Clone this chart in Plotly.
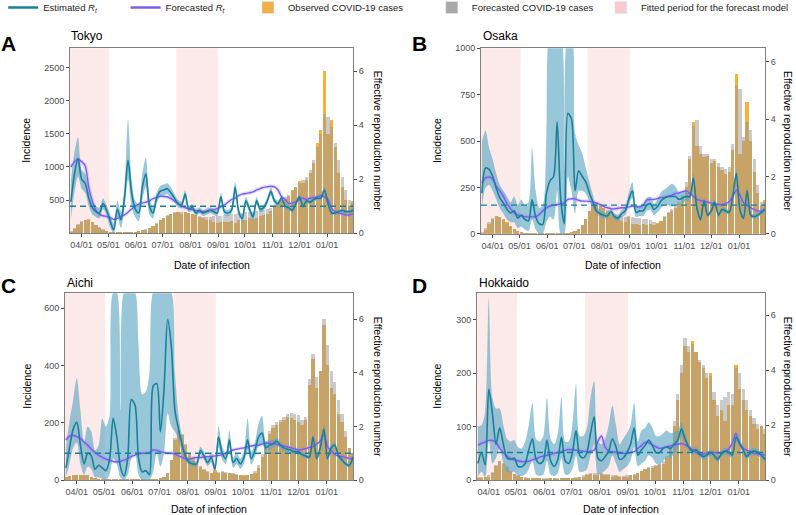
import plotly.graph_objects as go

W, H = 796, 515
FONT = "Liberation Sans, Arial, sans-serif"

dates = ["2020-03-20", "2020-03-24", "2020-03-28", "2020-04-01", "2020-04-05", "2020-04-09", "2020-04-13", "2020-04-17", "2020-04-21", "2020-04-25",
         "2020-04-29", "2020-05-03", "2020-05-07", "2020-05-11", "2020-05-15", "2020-05-19", "2020-05-23", "2020-05-27", "2020-05-31", "2020-06-04",
         "2020-06-08", "2020-06-12", "2020-06-16", "2020-06-20", "2020-06-24", "2020-06-28", "2020-07-02", "2020-07-06", "2020-07-10", "2020-07-14",
         "2020-07-18", "2020-07-22", "2020-07-26", "2020-07-30", "2020-08-03", "2020-08-07", "2020-08-11", "2020-08-15", "2020-08-19", "2020-08-23",
         "2020-08-27", "2020-08-31", "2020-09-04", "2020-09-08", "2020-09-12", "2020-09-16", "2020-09-20", "2020-09-24", "2020-09-28", "2020-10-02",
         "2020-10-06", "2020-10-10", "2020-10-14", "2020-10-18", "2020-10-22", "2020-10-26", "2020-10-30", "2020-11-03", "2020-11-07", "2020-11-11",
         "2020-11-15", "2020-11-19", "2020-11-23", "2020-11-27", "2020-12-01", "2020-12-05", "2020-12-09", "2020-12-13", "2020-12-17", "2020-12-21",
         "2020-12-25", "2020-12-29", "2021-01-02", "2021-01-06", "2021-01-10", "2021-01-14", "2021-01-18", "2021-01-22", "2021-01-26", "2021-01-30"]

month_ticks = ["2020-04-01", "2020-05-01", "2020-06-01", "2020-07-01", "2020-08-01", "2020-09-01",
               "2020-10-01", "2020-11-01", "2020-12-01", "2021-01-01"]
fitted_periods = [("2020-03-19", "2020-05-02"), ("2020-07-16", "2020-09-01")]
x_range = ["2020-03-19", "2021-01-30"]

# ---------------- Tokyo ----------------
tokyo_obs = [20, 60, 120, 170, 200, 210, 170, 120, 80, 50,
             30, 15, 10, 8, 10, 8, 10, 15, 20, 30,
             40, 50, 70, 100, 140, 190, 230, 260, 280, 300,
             310, 290, 320, 300, 280, 270, 240, 220, 200, 190,
             160, 150, 170, 160, 170, 180, 150, 200, 190, 200,
             220, 210, 230, 250, 270, 290, 330, 400, 450, 500,
             520, 560, 650, 700, 780, 760, 800, 900, 1050, 1350,
             1550, 2450, 1500, 1700, 1300, 900, 700, 500, 400, 480]
tokyo_fc = [25, 70, 130, 175, 200, 200, 165, 120, 85, 55,
            35, 20, 12, 10, 10, 10, 12, 15, 22, 30,
            40, 55, 75, 105, 145, 190, 230, 265, 290, 310,
            320, 320, 315, 305, 290, 275, 260, 245, 240, 245,
            250, 250, 260, 270, 270, 280, 290, 300, 300, 310,
            320, 320, 330, 340, 350, 360, 380, 420, 460, 500,
            540, 580, 640, 700, 760, 800, 850, 950, 1100, 1300,
            1500, 1800, 1750, 1600, 1350, 1100, 850, 650, 500, 450]
tokyo_rt = [1.16, 2.2, 2.76, 2.0, 1.85, 1.3, 0.95, 0.8, 0.75, 1.1,
            0.85, 0.45, 0.12, 0.9, 0.5, 1.3, 2.7, 1.5, 0.9, 0.75,
            1.7, 2.2, 1.0, 0.75, 1.3, 1.55, 1.6, 1.65, 1.5, 1.3,
            1.1, 1.05, 1.45, 0.9, 0.95, 0.75, 0.85, 0.75, 0.8, 0.85,
            0.8, 0.75, 1.35, 0.8, 0.75, 0.85, 1.7, 0.8, 0.55, 1.2,
            0.9, 0.6, 1.2, 0.9, 0.95, 1.2, 1.55, 1.2, 1.1, 1.3,
            1.0, 0.95, 0.85, 1.1, 1.35, 1.0, 1.2, 1.15, 1.25, 1.3,
            1.3, 1.6, 1.1, 0.75, 0.75, 0.8, 0.85, 0.8, 0.8, 0.85]
tokyo_lo = [0.55, 1.5, 2.1, 1.65, 1.5, 1.0, 0.7, 0.6, 0.55, 0.9,
            0.65, 0.2, 0.0, 0.6, 0.2, 0.9, 2.0, 1.0, 0.6, 0.45,
            1.25, 1.7, 0.7, 0.55, 1.1, 1.35, 1.4, 1.45, 1.3, 1.15,
            0.97, 0.93, 1.3, 0.78, 0.83, 0.64, 0.74, 0.64, 0.69, 0.74,
            0.69, 0.64, 1.2, 0.67, 0.63, 0.73, 1.5, 0.66, 0.42, 1.05,
            0.77, 0.48, 1.06, 0.78, 0.84, 1.08, 1.4, 1.08, 0.99, 1.19,
            0.9, 0.86, 0.76, 1.01, 1.25, 0.91, 1.11, 1.07, 1.17, 1.22,
            1.22, 1.48, 1.0, 0.68, 0.68, 0.73, 0.78, 0.73, 0.73, 0.77]
tokyo_hi = [1.95, 3.0, 3.55, 2.35, 2.2, 1.6, 1.2, 1.0, 0.95, 1.3,
            1.05, 0.7, 0.35, 1.2, 0.8, 1.7, 4.2, 2.0, 1.2, 1.05,
            2.2, 2.8, 1.3, 0.95, 1.5, 1.75, 1.8, 1.85, 1.7, 1.45,
            1.23, 1.17, 1.6, 1.02, 1.07, 0.86, 0.96, 0.86, 0.91, 0.96,
            0.91, 0.86, 1.5, 0.93, 0.87, 0.97, 1.9, 0.94, 0.68, 1.35,
            1.03, 0.72, 1.34, 1.02, 1.06, 1.32, 1.7, 1.32, 1.21, 1.41,
            1.1, 1.04, 0.94, 1.19, 1.45, 1.09, 1.29, 1.23, 1.33, 1.38,
            1.38, 1.72, 1.2, 0.82, 0.82, 0.87, 0.92, 0.87, 0.87, 0.93]
tokyo_frt = [2.45, 2.65, 2.75, 2.65, 2.5, 1.7, 1.2, 0.85, 0.7, 0.65,
             0.62, 0.58, 0.52, 0.55, 0.62, 0.68, 0.78, 0.9, 1.0, 1.08,
             1.12, 1.15, 1.2, 1.28, 1.33, 1.37, 1.36, 1.35, 1.28, 1.2,
             1.1, 1.0, 0.95, 0.9, 0.88, 0.85, 0.8, 0.8, 0.82, 0.85,
             0.87, 0.92, 0.98, 1.05, 1.15, 1.25, 1.3, 1.4, 1.45, 1.47,
             1.5, 1.53, 1.6, 1.65, 1.7, 1.72, 1.74, 1.72, 1.6, 1.35,
             1.25, 1.1, 1.12, 1.16, 1.25, 1.3, 1.25, 1.3, 1.32, 1.35,
             1.4, 1.35, 1.25, 0.92, 0.8, 0.75, 0.72, 0.68, 0.68, 0.72]

# ---------------- Osaka ----------------
osaka_obs = [5, 20, 50, 80, 95, 90, 80, 60, 40, 25,
             12, 8, 5, 3, 3, 2, 2, 2, 2, 2,
             2, 2, 3, 3, 5, 8, 15, 25, 45, 80,
             120, 160, 170, 150, 140, 120, 100, 90, 80, 70,
             60, 90, 50, 50, 45, 50, 45, 50, 45, 55,
             70, 90, 110, 120, 140, 160, 200, 250, 400, 600,
             470, 430, 410, 420, 380, 390, 360, 340, 320, 330,
             450, 860, 430, 500, 710, 500, 330, 220, 150, 180]
osaka_fc = [10, 30, 60, 85, 95, 90, 75, 55, 35, 22,
            12, 8, 5, 3, 3, 3, 2, 2, 2, 2,
            2, 3, 3, 4, 5, 6, 12, 25, 45, 80,
            120, 155, 165, 155, 140, 125, 110, 100, 95, 95,
            90, 95, 90, 85, 85, 80, 80, 75, 60, 50,
            70, 95, 115, 130, 150, 170, 210, 280, 420, 580,
            610, 470, 430, 430, 400, 400, 380, 360, 350, 360,
            480, 800, 780, 520, 600, 560, 400, 260, 170, 170]
osaka_rt = [1.42, 2.29, 2.25, 2.0, 1.6, 1.25, 1.07, 0.85, 0.73, 0.8,
            0.55, 0.65, 0.5, 0.45, 1.19, 0.6, 0.35, 0.33, 1.4, 1.85,
            2.0, 3.9, 1.2, 0.35, 4.2, 4.0, 1.5, 2.2, 2.0, 1.8,
            1.42, 1.1, 0.8, 0.7, 0.65, 0.62, 0.78, 0.6, 0.55, 0.7,
            0.8, 1.2, 1.5, 0.75, 0.8, 0.8, 1.0, 1.05, 0.85, 0.95,
            1.15, 1.25, 1.3, 1.3, 1.3, 1.2, 1.25, 1.3, 1.3, 1.94,
            0.9, 0.5, 1.15, 0.65, 0.8, 1.1, 0.65, 0.85, 0.8, 0.75,
            1.3, 2.1, 0.84, 0.55, 1.5, 0.65, 0.6, 0.65, 0.75, 0.85]
osaka_lo = [0.9, 1.6, 1.7, 1.5, 1.2, 0.9, 0.7, 0.5, 0.4, 0.4,
            0.2, 0.25, 0.15, 0.1, 0.5, 0.15, 0.0, 0.0, 0.4, 0.6,
            0.5, 1.5, 0.0, 0.0, 2.0, 1.5, 0.7, 1.5, 1.5, 1.4,
            1.15, 0.92, 0.68, 0.6, 0.55, 0.52, 0.67, 0.5, 0.45, 0.58,
            0.66, 1.0, 1.25, 0.58, 0.62, 0.62, 0.8, 0.85, 0.66, 0.75,
            0.9, 1.0, 1.0, 0.95, 1.0, 1.0, 1.08, 1.15, 1.18, 1.8,
            0.8, 0.42, 1.05, 0.57, 0.72, 1.0, 0.57, 0.77, 0.72, 0.67,
            1.2, 1.95, 0.75, 0.47, 1.38, 0.57, 0.52, 0.57, 0.66, 0.75]
osaka_hi = [3.2, 3.6, 3.0, 2.6, 2.1, 1.7, 1.5, 1.3, 1.1, 1.3,
            1.0, 1.2, 1.0, 1.1, 3.0, 1.5, 0.9, 1.0, 3.5, 7.0,
            7.0, 7.0, 7.0, 2.2, 7.0, 7.0, 3.5, 3.1, 2.8, 2.3,
            1.8, 1.35, 0.95, 0.82, 0.76, 0.72, 0.9, 0.72, 0.67, 0.82,
            0.95, 1.45, 1.8, 0.95, 1.0, 1.0, 1.25, 1.3, 1.05, 1.2,
            1.45, 1.55, 1.65, 1.75, 1.65, 1.45, 1.45, 1.45, 1.42, 2.1,
            1.0, 0.6, 1.25, 0.74, 0.88, 1.2, 0.73, 0.93, 0.88, 0.83,
            1.4, 2.25, 0.93, 0.63, 1.62, 0.73, 0.68, 0.73, 0.84, 0.95]
osaka_frt = [1.78, 1.95, 1.98, 1.9, 1.66, 1.5, 1.3, 1.05, 0.88, 0.73,
             0.66, 0.62, 0.6, 0.59, 0.59, 0.6, 0.67, 0.8, 0.9, 0.97,
             1.0, 1.02, 1.05, 1.08, 1.2, 1.22, 1.22, 1.17, 1.14, 1.14,
             1.13, 1.1, 1.07, 1.02, 0.95, 0.91, 0.88, 0.87, 0.89, 0.91,
             0.91, 0.94, 0.97, 0.95, 0.93, 1.0, 1.18, 1.2, 1.2, 1.23,
             1.26, 1.28, 1.31, 1.35, 1.4, 1.43, 1.47, 1.49, 1.42, 1.3,
             1.2, 1.16, 1.14, 1.1, 1.08, 1.05, 1.02, 1.02, 1.05, 1.12,
             1.3, 1.52, 1.35, 1.08, 1.0, 0.91, 0.84, 0.8, 0.79, 0.85]

# ---------------- Aichi ----------------
aichi_obs = [8, 12, 15, 15, 18, 18, 15, 10, 6, 4,
             2, 1, 1, 1, 1, 1, 1, 1, 1, 1,
             1, 2, 2, 2, 3, 3, 5, 10, 25, 70,
             140, 170, 155, 120, 90, 70, 55, 45, 35, 28,
             22, 35, 25, 28, 25, 22, 20, 18, 15, 15,
             18, 20, 25, 40, 80, 120, 160, 180, 190, 200,
             210, 220, 215, 210, 200, 190, 210, 330, 420, 320,
             380, 540, 400, 320, 300, 230, 200, 150, 110, 95]
aichi_fc = [8, 12, 15, 16, 18, 18, 15, 11, 7, 4,
            2, 1, 1, 1, 1, 1, 1, 1, 1, 1,
            1, 2, 2, 2, 3, 4, 6, 10, 25, 70,
            145, 175, 160, 125, 95, 75, 60, 48, 38, 30,
            25, 28, 28, 30, 28, 25, 22, 20, 16, 12,
            15, 20, 30, 50, 90, 130, 170, 190, 200, 210,
            220, 230, 232, 230, 225, 210, 220, 350, 440, 360,
            380, 560, 470, 380, 340, 280, 230, 170, 110, 95]
aichi_rt = [0.45, 1.2, 1.9, 2.15, 1.3, 0.6, 1.0, 0.9, 0.4, 0.55,
            0.45, 0.35, 0.75, 2.3, 1.6, 0.5, 0.15, 0.8, 3.0, 2.8,
            0.8, 0.3, 0.35, 0.2, 3.5, 3.6, 1.8, 3.4, 6.0, 5.0,
            2.6, 1.9, 1.3, 0.85, 0.65, 0.6, 0.6, 1.1, 0.9, 0.65,
            0.85, 0.4, 1.6, 1.0, 0.8, 1.5, 0.65, 0.8, 0.6, 0.85,
            1.5, 0.8, 1.1, 1.6, 1.75, 1.2, 1.3, 1.35, 1.45, 1.3,
            1.2, 1.15, 1.1, 1.05, 1.05, 0.95, 0.9, 0.85, 1.6, 0.8,
            1.2, 1.9, 0.8, 1.2, 1.3, 0.9, 0.75, 0.6, 0.55, 0.85]
aichi_lo = [0.1, 0.6, 1.2, 1.4, 0.6, 0.2, 0.5, 0.4, 0.1, 0.1,
            0.05, 0.0, 0.2, 0.8, 0.6, 0.1, 0.0, 0.2, 0.8, 1.0,
            0.2, 0.0, 0.0, 0.0, 0.3, 1.0, 0.5, 1.0, 2.5, 2.0,
            1.8, 1.5, 1.0, 0.7, 0.55, 0.5, 0.5, 0.95, 0.75, 0.52,
            0.65, 0.28, 1.2, 0.75, 0.6, 1.2, 0.45, 0.6, 0.42, 0.62,
            1.1, 0.58, 0.85, 1.25, 1.35, 1.0, 1.12, 1.2, 1.3, 1.18,
            1.08, 1.04, 0.99, 0.95, 0.95, 0.86, 0.81, 0.77, 1.48, 0.72,
            1.1, 1.76, 0.71, 1.09, 1.18, 0.8, 0.65, 0.51, 0.46, 0.74]
aichi_hi = [1.2, 2.2, 3.0, 3.8, 2.6, 1.4, 2.0, 1.8, 1.1, 1.3,
            2.3, 2.0, 2.4, 7.0, 7.0, 2.6, 7.0, 7.0, 7.0, 7.0,
            5.0, 3.2, 3.3, 4.0, 7.0, 7.0, 7.0, 7.0, 7.0, 7.0,
            4.0, 2.4, 1.6, 1.0, 0.76, 0.7, 0.72, 1.25, 1.05, 0.8,
            1.05, 0.55, 2.0, 1.25, 1.0, 1.85, 0.85, 1.0, 0.8, 1.1,
            2.3, 1.05, 1.4, 2.1, 2.4, 1.45, 1.5, 1.5, 1.6, 1.42,
            1.32, 1.26, 1.21, 1.15, 1.15, 1.04, 0.99, 0.93, 1.72, 0.88,
            1.3, 2.04, 0.89, 1.31, 1.42, 1.0, 0.85, 0.69, 0.64, 0.96]
aichi_frt = [1.49, 1.65, 1.66, 1.62, 1.55, 1.42, 1.3, 1.15, 1.03, 0.92,
             0.85, 0.78, 0.74, 0.69, 0.68, 0.7, 0.74, 0.8, 0.87, 0.93,
             0.98, 1.0, 1.0, 1.03, 1.12, 1.1, 1.06, 1.02, 1.0, 1.0,
             0.97, 0.9, 0.85, 0.78, 0.78, 0.82, 0.84, 0.84, 0.86, 0.87,
             0.88, 0.9, 0.92, 0.95, 1.0, 1.05, 1.12, 1.15, 1.18, 1.2,
             1.24, 1.27, 1.3, 1.3, 1.34, 1.37, 1.37, 1.36, 1.33, 1.3,
             1.27, 1.24, 1.2, 1.16, 1.12, 1.14, 1.17, 1.22, 1.25, 1.35,
             1.45, 1.7, 1.25, 1.1, 0.95, 0.9, 0.87, 0.84, 0.8, 0.82]

# ---------------- Hokkaido ----------------
hokkaido_obs = [4, 4, 5, 6, 12, 25, 35, 30, 22, 15,
                10, 7, 5, 4, 4, 3, 3, 3, 2, 2,
                3, 3, 2, 3, 3, 4, 3, 4, 5, 6,
                8, 10, 9, 8, 10, 9, 8, 6, 7, 5,
                5, 6, 8, 9, 12, 16, 20, 22, 22, 25,
                27, 30, 40, 60, 100, 150, 200, 250, 240, 260,
                240, 220, 210, 190, 200, 150, 120, 130, 110, 140,
                140, 215, 170, 150, 130, 120, 105, 95, 100, 85]
hokkaido_fc = [5, 5, 6, 8, 14, 27, 35, 32, 25, 17,
               11, 8, 6, 5, 4, 4, 3, 3, 3, 3,
               3, 3, 3, 3, 3, 4, 4, 5, 6, 8,
               10, 12, 13, 12, 12, 11, 10, 9, 8, 7,
               7, 8, 9, 10, 13, 17, 20, 23, 25, 27,
               30, 35, 45, 65, 110, 160, 215, 265, 250, 255,
               240, 225, 215, 200, 195, 165, 140, 150, 155, 165,
               160, 210, 200, 170, 150, 130, 115, 105, 100, 95]
hokkaido_rt = [0.6, 1.0, 0.55, 3.3, 2.4, 1.3, 1.9, 1.3, 0.8, 0.75,
               0.8, 0.5, 0.48, 0.6, 1.1, 1.5, 0.75, 0.6, 0.7, 1.45,
               0.7, 0.5, 0.75, 1.55, 0.7, 0.6, 1.0, 1.8, 0.9, 0.8,
               1.0, 1.7, 2.3, 0.8, 0.7, 0.85, 1.05, 1.5, 1.2, 0.75,
               0.8, 1.0, 1.3, 1.9, 0.9, 1.1, 1.25, 1.45, 1.25, 1.0,
               1.0, 1.15, 1.2, 1.15, 1.3, 1.45, 1.85, 1.5, 1.2, 1.05,
               1.1, 0.95, 0.85, 0.9, 1.0, 0.9, 0.75, 0.95, 1.05, 1.0,
               0.9, 1.55, 1.35, 1.1, 0.85, 1.0, 1.05, 1.0, 0.9, 0.75]
hokkaido_lo = [0.12, 0.3, 0.1, 1.5, 0.6, 0.8, 1.2, 0.6, 0.3, 0.28,
               0.3, 0.15, 0.15, 0.2, 0.4, 0.7, 0.2, 0.15, 0.2, 0.7,
               0.2, 0.15, 0.25, 0.8, 0.2, 0.2, 0.4, 0.9, 0.3, 0.3,
               0.4, 0.9, 1.3, 0.2, 0.25, 0.35, 0.5, 0.9, 0.6, 0.3,
               0.4, 0.5, 0.7, 1.2, 0.5, 0.6, 0.7, 0.9, 0.8, 0.6,
               0.55, 0.7, 0.8, 0.8, 0.95, 1.15, 1.6, 1.3, 1.07, 0.93,
               0.98, 0.84, 0.74, 0.79, 0.89, 0.79, 0.64, 0.84, 0.93, 0.88,
               0.79, 1.4, 1.22, 0.98, 0.74, 0.88, 0.93, 0.88, 0.79, 0.64]
hokkaido_hi = [1.95, 2.0, 2.5, 6.6, 3.0, 2.6, 2.6, 2.0, 1.5, 1.4,
               1.45, 1.2, 1.15, 1.4, 2.0, 2.8, 1.5, 1.4, 1.6, 3.0,
               1.5, 1.3, 1.7, 3.0, 1.4, 1.4, 2.0, 3.5, 1.6, 1.6,
               1.9, 3.0, 3.6, 1.4, 1.3, 1.5, 2.0, 2.7, 2.0, 1.3,
               1.5, 1.7, 2.0, 2.8, 1.4, 1.8, 1.9, 2.1, 1.9, 1.6,
               1.6, 1.7, 1.8, 1.7, 1.75, 1.8, 2.1, 1.7, 1.33, 1.17,
               1.22, 1.06, 0.96, 1.01, 1.11, 1.01, 0.86, 1.06, 1.17, 1.12,
               1.01, 1.7, 1.48, 1.22, 0.96, 1.12, 1.17, 1.12, 1.01, 0.86]
hokkaido_frt = [1.27, 1.33, 1.39, 1.44, 1.44, 1.36, 1.15, 1.0, 0.87, 0.78,
                0.73, 0.7, 0.67, 0.67, 0.68, 0.73, 0.77, 0.83, 0.87, 0.9,
                0.93, 0.97, 1.0, 1.03, 1.08, 1.11, 1.1, 1.08, 1.07, 1.05,
                1.03, 1.05, 1.09, 1.4, 1.6, 1.2, 1.05, 1.03, 1.0, 0.97,
                0.97, 0.97, 1.0, 1.03, 1.15, 1.25, 1.37, 1.35, 1.28, 1.2,
                1.15, 1.17, 1.21, 1.24, 1.27, 1.3, 1.33, 1.28, 1.2, 1.1,
                1.0, 0.92, 0.95, 0.97, 0.99, 1.0, 0.98, 0.97, 1.05, 1.12,
                1.35, 1.7, 1.3, 1.15, 1.09, 1.03, 0.97, 0.95, 0.93, 0.91]

legend_names = ["Estimated <i>R<sub>t</sub></i>",
                "Forecasted <i>R<sub>t</sub></i>",
                "Observed COVID-19 cases",
                "Forecasted COVID-19 cases",
                "Fitted period for the forecast model"]

# ---------------- styling ----------------
TEAL = "#17809b"
TEAL_FILL = "rgba(88,165,194,0.62)"
PURPLE = "#7b5cf2"
PURPLE_HALO = "rgba(150,125,250,0.25)"
ORANGE = "rgba(248,170,40,0.92)"
GREY = "rgba(150,150,150,0.5)"
PINK_BG = "#fdeaea"
AXIS_C = "#808080"
TICK_C = "#4d4d4d"
NB = "\u00a0"

panels = [
    dict(letter="A", title="Tokyo", obs=tokyo_obs, fc=tokyo_fc, rt=tokyo_rt, lo=tokyo_lo, hi=tokyo_hi, frt=tokyo_frt,
         px_x=(70, 353), px_y=(48.3, 233.3), inc_range=[0, 2790], inc_ticks=[500, 1000, 1500, 2000, 2500],
         rt_range=[0, 6.84], letter_xy=(8, 44), title_xy=(69, 36), inc_x=26, rt_x=378, date_y=265),
    dict(letter="B", title="Osaka", obs=osaka_obs, fc=osaka_fc, rt=osaka_rt, lo=osaka_lo, hi=osaka_hi, frt=osaka_frt,
         px_x=(481, 765), px_y=(48.3, 233.8), inc_range=[0, 1000], inc_ticks=[0, 250, 500, 750, 1000],
         rt_range=[0, 6.47], letter_xy=(420, 44), title_xy=(481, 36), inc_x=437, rt_x=788, date_y=265),
    dict(letter="C", title="Aichi", obs=aichi_obs, fc=aichi_fc, rt=aichi_rt, lo=aichi_lo, hi=aichi_hi, frt=aichi_frt,
         px_x=(65, 353), px_y=(293.3, 480), inc_range=[0, 652], inc_ticks=[0, 200, 400, 600],
         rt_range=[0, 6.97], letter_xy=(8, 285), title_xy=(65, 283), inc_x=27, rt_x=378, date_y=508.5),
    dict(letter="D", title="Hokkaido", obs=hokkaido_obs, fc=hokkaido_fc, rt=hokkaido_rt, lo=hokkaido_lo, hi=hokkaido_hi, frt=hokkaido_frt,
         px_x=(477, 765), px_y=(293.3, 480), inc_range=[0, 350], inc_ticks=[0, 100, 200, 300],
         rt_range=[0, 6.79], letter_xy=(420, 285), title_xy=(477, 283), inc_x=437, rt_x=788, date_y=508.5),
]


def fx(p):
    return p / W


def fy(p):
    return 1 - p / H


fig = go.Figure()
layout = dict(
    width=W, height=H, margin=dict(l=0, r=0, t=0, b=0, pad=0, autoexpand=False),
    paper_bgcolor="white", plot_bgcolor="white",
    font=dict(family=FONT, size=10, color="#222222"),
    barmode="overlay", bargap=0, showlegend=True,
    legend=dict(orientation="h", x=0.004, y=1.0 + 7 / H, xanchor="left", yanchor="top",
                font=dict(size=9.5, color="#222222"), bgcolor="rgba(0,0,0,0)",
                itemwidth=30, tracegroupgap=0),
)
shapes = []
annotations = []
DAY_MS = 86400000

for k, p in enumerate(panels):
    xid = "x" if k == 0 else f"x{k + 1}"
    yl = f"y{2 * k + 1}" if k > 0 else "y"
    yr = f"y{2 * k + 2}"
    xkey = "xaxis" if k == 0 else f"xaxis{k + 1}"
    ylkey = "yaxis" if k == 0 else f"yaxis{2 * k + 1}"
    yrkey = f"yaxis{2 * k + 2}"
    xd = [fx(p["px_x"][0]), fx(p["px_x"][1])]
    yd = [fy(p["px_y"][1]), fy(p["px_y"][0])]

    layout[xkey] = dict(domain=xd, anchor=yl, type="date", range=x_range, tickvals=month_ticks,
                        tickformat="%m/%d", ticks="outside", ticklen=3, tickcolor=TICK_C,
                        tickfont=dict(size=9, color=TICK_C), showline=True, mirror=True,
                        linecolor=AXIS_C, linewidth=1, showgrid=False, zeroline=False)
    layout[ylkey] = dict(domain=yd, anchor=xid, range=p["inc_range"], tickvals=p["inc_ticks"],
                         ticks="outside", ticklen=3, tickcolor=TICK_C, tickfont=dict(size=9, color=TICK_C),
                         showline=True, mirror=True, linecolor=AXIS_C, linewidth=1,
                         showgrid=False, zeroline=False)
    layout[yrkey] = dict(overlaying=yl, anchor=xid, side="right", range=p["rt_range"], tickvals=[0, 2, 4, 6],
                         ticks="outside", ticklen=3, tickcolor=TICK_C, tickfont=dict(size=9, color=TICK_C),
                         showline=True, linecolor=AXIS_C, linewidth=1, showgrid=False, zeroline=False)

    for (a, b) in fitted_periods:
        shapes.append(dict(type="rect", xref=xid, yref=f"{yl} domain", x0=a, x1=b, y0=0, y1=1,
                           fillcolor=PINK_BG, line=dict(width=0), layer="below"))

    fig.add_trace(go.Bar(x=dates, y=p["obs"], width=3.6 * DAY_MS, marker=dict(color=ORANGE, line=dict(width=0)),
                         xaxis=xid, yaxis=yl, showlegend=False, hoverinfo="skip"))
    fig.add_trace(go.Bar(x=dates, y=p["fc"], width=3.6 * DAY_MS, marker=dict(color=GREY, line=dict(width=0)),
                         xaxis=xid, yaxis=yl, showlegend=False, hoverinfo="skip"))

    fig.add_trace(go.Scatter(x=dates + dates[::-1], y=p["hi"] + p["lo"][::-1], fill="toself",
                             fillcolor=TEAL_FILL, line=dict(width=0, shape="spline", smoothing=0.8),
                             mode="lines", xaxis=xid, yaxis=yr, showlegend=False, hoverinfo="skip"))
    fig.add_trace(go.Scatter(x=dates, y=p["frt"], mode="lines",
                             line=dict(color=PURPLE_HALO, width=4, shape="spline", smoothing=0.8),
                             xaxis=xid, yaxis=yr, showlegend=False, hoverinfo="skip"))
    fig.add_trace(go.Scatter(x=dates, y=p["frt"], mode="lines",
                             line=dict(color=PURPLE, width=1.4, shape="spline", smoothing=0.8),
                             xaxis=xid, yaxis=yr, showlegend=False, hoverinfo="skip"))
    fig.add_trace(go.Scatter(x=dates, y=p["rt"], mode="lines",
                             line=dict(color=TEAL, width=1.6, shape="spline", smoothing=0.8),
                             xaxis=xid, yaxis=yr, showlegend=False, hoverinfo="skip"))

    shapes.append(dict(type="line", xref=f"{xid} domain", yref=yr, x0=0, x1=1, y0=1, y1=1,
                       line=dict(color=TEAL, width=1.4, dash="6px,4px"), layer="above"))

    annotations.append(dict(text=f"<b>{p['letter']}</b>", x=fx(p["letter_xy"][0]), y=fy(p["letter_xy"][1]),
                            xref="paper", yref="paper", xanchor="center", yanchor="middle", showarrow=False,
                            font=dict(size=21, color="black", family=FONT)))
    annotations.append(dict(text=p["title"], x=fx(p["title_xy"][0]), y=fy(p["title_xy"][1]),
                            xref="paper", yref="paper", xanchor="left", yanchor="middle", showarrow=False,
                            font=dict(size=12, color="black", family=FONT)))
    ymid = (p["px_y"][0] + p["px_y"][1]) / 2
    annotations.append(dict(text="Incidence", x=fx(p["inc_x"]), y=fy(ymid), xref="paper", yref="paper",
                            xanchor="center", yanchor="middle", textangle=-90, showarrow=False,
                            font=dict(size=10.5, color="black", family=FONT)))
    annotations.append(dict(text="Effective reproduction number", x=fx(p["rt_x"]), y=fy(ymid),
                            xref="paper", yref="paper", xanchor="center", yanchor="middle", textangle=90,
                            showarrow=False, font=dict(size=10.5, color="black", family=FONT)))
    xmid = (p["px_x"][0] + p["px_x"][1]) / 2
    annotations.append(dict(text="Date of infection", x=fx(xmid), y=fy(p["date_y"]), xref="paper", yref="paper",
                            xanchor="center", yanchor="middle", showarrow=False,
                            font=dict(size=10.5, color="black", family=FONT)))

# legend entries (trailing non-breaking spaces only widen the spacing between entries)
fig.add_trace(go.Scatter(x=[None], y=[None], mode="lines", line=dict(color=TEAL, width=2.5),
                         name=legend_names[0] + NB * 9, xaxis="x", yaxis="y2"))
fig.add_trace(go.Scatter(x=[None], y=[None], mode="lines", line=dict(color=PURPLE, width=2.5),
                         name=legend_names[1] + NB * 7, xaxis="x", yaxis="y2"))
fig.add_trace(go.Bar(x=[None], y=[None], marker=dict(color="#f3ae48"), name=legend_names[2] + NB * 9,
                     xaxis="x", yaxis="y"))
fig.add_trace(go.Bar(x=[None], y=[None], marker=dict(color="#a8a8a8"), name=legend_names[3] + NB * 1,
                     xaxis="x", yaxis="y"))
fig.add_trace(go.Bar(x=[None], y=[None], marker=dict(color="#f8c9d2"), name=legend_names[4],
                     xaxis="x", yaxis="y"))

layout["shapes"] = shapes
layout["annotations"] = annotations
fig.update_layout(**layout)
fig.write_html("out.html", config={"displayModeBar": False},
               post_script="document.body.style.margin='0px';")
